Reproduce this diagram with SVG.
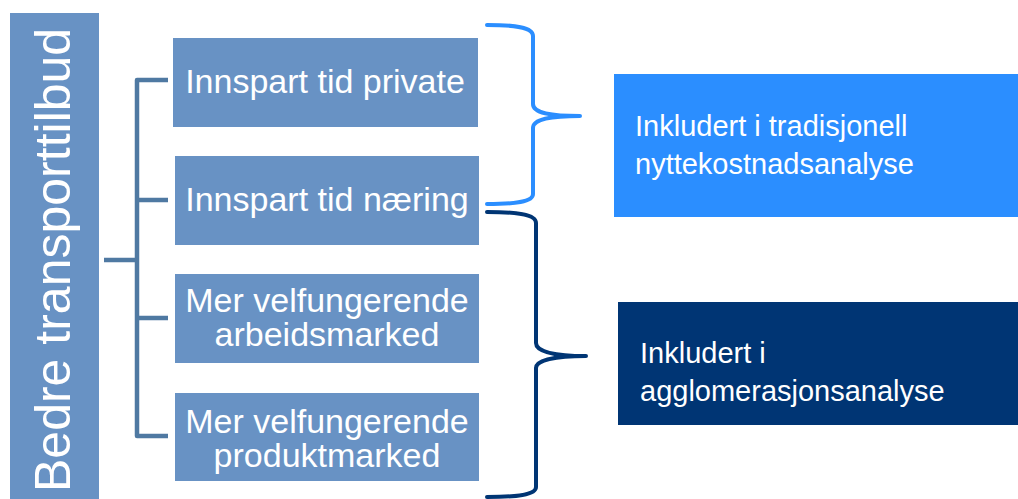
<svg xmlns="http://www.w3.org/2000/svg" width="1018" height="499" viewBox="0 0 1018 499">
<style>
.box{fill:#6892C4}
.t{font-family:"Liberation Sans",Arial,sans-serif;fill:#fff}
.m{font-size:34px;text-anchor:middle}
.r{font-size:29px}
.tree{fill:none;stroke:#4F79A2;stroke-width:4.5;stroke-linecap:butt;stroke-linejoin:round}
.br{fill:none;stroke-width:4;stroke-linecap:round;stroke-linejoin:round}
</style>
<rect width="1018" height="499" fill="#fff"/>
<g id="connectors">
<path class="tree" d="M104 260 H137 M168 80 H137 V436 H168 M137 200 H168 M137 318 H168"/>
<path class="br" stroke="#2B8EFF" d="M487 25 C515 25 533 27 533 36 V104 C533 113 550 116 580 116 C550 116 533 119 533 128 V194 C533 202 515 204 487 204"/>
<path class="br" stroke="#003574" d="M487 212 C516 212 536 214 536 223 V343 C536 352 555 356 586 356 C555 356 536 360 536 368 V487 C536 495 516 497 487 497"/>
</g>
<g id="root">
<rect class="box" x="10" y="13" width="89" height="486"/>
<text class="t" font-size="50" transform="translate(70,492) rotate(-90)">Bedre transporttilbud</text>
</g>
<g id="n1">
<rect class="box" x="173" y="38" width="305" height="89"/>
<text class="t m" x="325" y="93">Innspart tid private</text>
</g>
<g id="n2">
<rect class="box" x="175" y="156" width="304" height="89"/>
<text class="t m" x="327" y="211">Innspart tid næring</text>
</g>
<g id="n3">
<rect class="box" x="175" y="274" width="304" height="89"/>
<text class="t m" x="327" y="312">Mer velfungerende</text>
<text class="t m" x="327" y="346">arbeidsmarked</text>
</g>
<g id="n4">
<rect class="box" x="175" y="393" width="304" height="88"/>
<text class="t m" x="327" y="433">Mer velfungerende</text>
<text class="t m" x="327" y="467">produktmarked</text>
</g>
<g id="r1">
<rect x="614" y="74" width="404" height="143" fill="#2B8EFF"/>
<text class="t r" x="635" y="136">Inkludert i tradisjonell</text>
<text class="t r" x="635" y="174">nyttekostnadsanalyse</text>
</g>
<g id="r2">
<rect x="618" y="302" width="400" height="123" fill="#003574"/>
<text class="t r" x="640" y="363">Inkludert i</text>
<text class="t r" x="640" y="401">agglomerasjonsanalyse</text>
</g>
</svg>
